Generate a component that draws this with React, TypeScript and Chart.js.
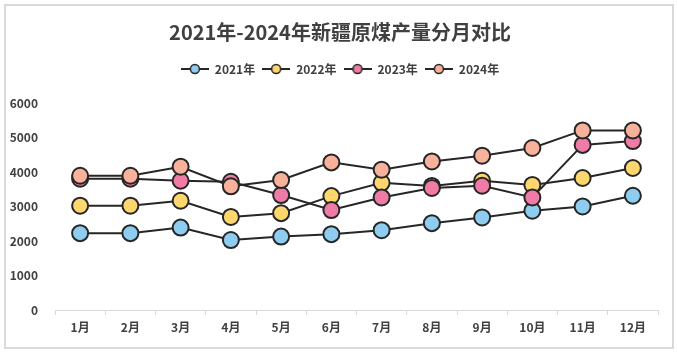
import React, { useEffect, useRef } from "react";
import { Chart, registerables } from "chart.js";

Chart.register(...registerables);

const months = ["1月", "2月", "3月", "4月", "5月", "6月", "7月", "8月", "9月", "10月", "11月", "12月"];
const s2021 = [2230, 2230, 2390, 2030, 2130, 2200, 2315, 2520, 2685, 2880, 3005, 3315];
const s2022 = [3025, 3025, 3170, 2700, 2810, 3305, 3690, 3600, 3750, 3630, 3830, 4120];
const s2023 = [3810, 3810, 3750, 3720, 3335, 2900, 3265, 3540, 3605, 3265, 4790, 4900];
const s2024 = [3895, 3895, 4157, 3590, 3770, 4283, 4070, 4310, 4477, 4700, 5210, 5210];
const seriesNames = ["2021年", "2022年", "2023年", "2024年"];
const seriesColors = ["#8ECDF0", "#FDD66E", "#F07BA6", "#F8B19B"];

const LINE = "#262626";
const FONT = "'Noto Sans CJK SC', 'Noto Sans', sans-serif";

function legendIcon(color: string): HTMLCanvasElement {
  const c = document.createElement("canvas");
  c.width = 28;
  c.height = 12;
  const ctx = c.getContext("2d")!;
  ctx.strokeStyle = LINE;
  ctx.lineWidth = 2;
  ctx.beginPath();
  ctx.moveTo(0, 6);
  ctx.lineTo(28, 6);
  ctx.stroke();
  ctx.beginPath();
  ctx.arc(14, 6, 4.5, 0, Math.PI * 2);
  ctx.fillStyle = color;
  ctx.fill();
  ctx.lineWidth = 1.5;
  ctx.stroke();
  return c;
}

export default function App() {
  const ref = useRef<HTMLCanvasElement | null>(null);

  useEffect(() => {
    document.body.style.margin = "0";
    const all = [s2021, s2022, s2023, s2024];
    const chart = new Chart(ref.current!, {
      type: "line",
      data: {
        labels: months,
        datasets: all.map((d, i) => ({
          label: seriesNames[i],
          data: d,
          borderColor: LINE,
          borderWidth: 2,
          backgroundColor: seriesColors[i],
          pointBackgroundColor: seriesColors[i],
          pointBorderColor: LINE,
          pointBorderWidth: 2,
          pointRadius: 8,
          pointStyle: "circle",
          tension: 0,
          order: 4 - i,
          yAxisID: "y",
        })),
      },
      options: {
        animation: false,
        responsive: false,
        layout: { padding: { top: 0, right: 0, bottom: 0, left: 3 } },
        plugins: {
          title: {
            display: true,
            text: "2021年-2024年新疆原煤产量分月对比",
            color: "#404040",
            font: { family: FONT, size: 20, weight: "bold" },
            padding: { top: 20, bottom: 12 },
          },
          subtitle: {
            display: true,
            text: "",
            weight: 500,
            font: { size: 1 },
            padding: { top: 0, bottom: 17 },
          },
          legend: {
            display: true,
            labels: {
              usePointStyle: true,
              pointStyleWidth: 28,
              boxHeight: 12,
              color: "#404040",
              font: { family: FONT, size: 12, weight: "bold" },
              padding: 7,
              sort: (a: any, b: any) => a.datasetIndex - b.datasetIndex,
              generateLabels: (ch: any) =>
                ch.data.datasets.map((ds: any, i: number) => ({
                  text: ds.label,
                  pointStyle: legendIcon(seriesColors[i]),
                  fillStyle: seriesColors[i],
                  strokeStyle: LINE,
                  lineWidth: 0,
                  hidden: false,
                  datasetIndex: i,
                  fontColor: "#404040",
                })),
            },
          },
          tooltip: { enabled: false },
        },
        scales: {
          x: {
            offset: true,
            grid: {
              display: true,
              drawOnChartArea: false,
              drawTicks: true,
              tickLength: 5,
              color: "#D9D9D9",
              offset: true,
            },
            border: { display: true, color: "#D9D9D9", width: 1 },
            ticks: {
              color: "#404040",
              font: { family: FONT, size: 12, weight: "bold" },
              padding: 5,
              maxRotation: 0,
              autoSkip: false,
            },
            afterFit: (s: any) => {
              s.height = 42;
            },
          },
          y: {
            min: 0,
            max: 6000,
            grid: { display: false },
            border: { display: false },
            ticks: {
              stepSize: 1000,
              color: "#404040",
              font: { family: FONT, size: 12, weight: "bold" },
              padding: 9,
              callback: (v: any) => String(v),
            },
            afterFit: (s: any) => {
              s.width = 52;
            },
          },
          yRight: {
            position: "right",
            display: true,
            min: 0,
            max: 6000,
            grid: { display: false },
            border: { display: false },
            ticks: { display: false },
            afterFit: (s: any) => {
              s.width = 19;
            },
          },
        },
      },
    });
    return () => chart.destroy();
  }, []);

  return (
    <div style={{ position: "relative", width: 677, height: 352, background: "#fff" }}>
      <canvas ref={ref} width={677} height={352} style={{ display: "block" }} />
      <div
        style={{
          position: "absolute",
          left: 4,
          top: 4,
          width: 666,
          height: 341,
          border: "2px solid #D9D9D9",
          pointerEvents: "none",
        }}
      />
    </div>
  );
}
